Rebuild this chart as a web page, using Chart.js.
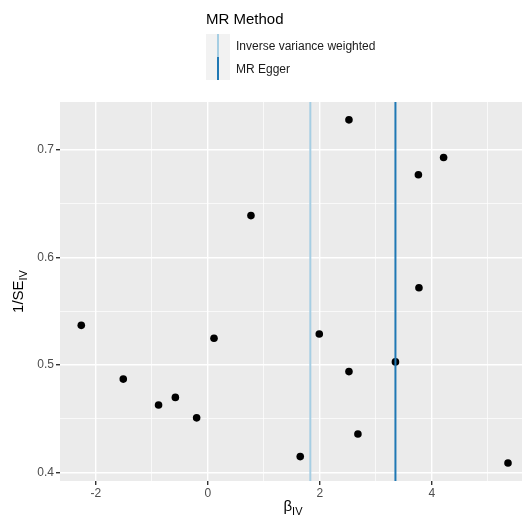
<!DOCTYPE html>
<html>
<head>
<meta charset="utf-8">
<script src="https://cdn.jsdelivr.net/npm/chart.js@4"></script>
<style>
  html, body { margin: 0; padding: 0; background: #ffffff; }
  #wrap { position: relative; width: 522px; height: 519px; }
</style>
</head>
<body>
<div id="wrap"><canvas id="funnel" width="522" height="519"></canvas></div>
<script>
// Per-variant instrumental-variable estimates and their precision
const betaIV = [2.52, 4.21, 3.76, 0.77, 3.77, -2.26, 1.99, 0.11, 3.35, 2.52, -1.51, -0.58, -0.88, -0.20, 2.68, 1.65, 5.36];
const invSE  = [0.728, 0.693, 0.677, 0.639, 0.572, 0.537, 0.529, 0.525, 0.503, 0.494, 0.487, 0.470, 0.463, 0.451, 0.436, 0.415, 0.409];

// Pooled causal estimates by method
const methods = ['Inverse variance weighted', 'MR Egger'];
const methodEstimates = [1.83, 3.35];

// Axis breaks
const xMajor = [-2, 0, 2, 4];
const xMinor = [-1, 1, 3, 5];
const yMajor = [0.4, 0.5, 0.6, 0.7];
const yMinor = [0.45, 0.55, 0.65];
const xLimits = [-2.64, 5.61];
const yLimits = [0.3923, 0.7446];

const methodColours = ['#a6cee3', '#1f78b4'];
const FONT = '"Liberation Sans", Arial, Helvetica, sans-serif';

const isMajor = (v, majors) => majors.some(m => Math.abs(m - v) < 1e-9);

const pointData = betaIV.map((b, i) => ({ x: b, y: invSE[i] }));
const lineSets = methods.map((m, i) => ({
  label: m,
  data: [{ x: methodEstimates[i], y: yLimits[0] }, { x: methodEstimates[i], y: yLimits[1] }],
  showLine: true,
  borderColor: methodColours[i],
  borderWidth: 2,
  pointRadius: 0,
  order: 0
}));

// Grey panel behind the grid
const panelBg = {
  id: 'panelBg',
  beforeDraw(chart) {
    const { ctx, chartArea: a } = chart;
    ctx.save();
    ctx.fillStyle = '#ebebeb';
    ctx.fillRect(a.left, a.top, a.right - a.left, a.bottom - a.top);
    ctx.restore();
  }
};

// Draws text followed by a lowered, smaller subscript, centred on (0,0)
function drawSubscripted(ctx, main, sub, size) {
  ctx.font = size + 'px ' + FONT;
  const w1 = ctx.measureText(main).width;
  ctx.font = Math.round(size * 0.72) + 'px ' + FONT;
  const w2 = ctx.measureText(sub).width;
  const start = -(w1 + w2) / 2;
  ctx.textAlign = 'left';
  ctx.textBaseline = 'middle';
  ctx.fillStyle = '#000000';
  ctx.font = size + 'px ' + FONT;
  ctx.fillText(main, start, 0);
  ctx.font = Math.round(size * 0.72) + 'px ' + FONT;
  ctx.fillText(sub, start + w1, size * 0.3);
}

// Axis titles and the method legend
const annotations = {
  id: 'annotations',
  afterDraw(chart) {
    const { ctx, chartArea: a } = chart;
    ctx.save();
    ctx.translate(293, 507);
    drawSubscripted(ctx, '\u03B2', 'IV', 15);
    ctx.restore();

    ctx.save();
    ctx.translate(19, (a.top + a.bottom) / 2);
    ctx.rotate(-Math.PI / 2);
    drawSubscripted(ctx, '1/SE', 'IV', 15);
    ctx.restore();

    // legend
    ctx.save();
    ctx.fillStyle = '#000000';
    ctx.font = '15px ' + FONT;
    ctx.textAlign = 'left';
    ctx.textBaseline = 'middle';
    ctx.fillText('MR Method', 206, 20);
    const keyX = 206, keyY = 34, keyW = 24, keyH = 23;
    methods.forEach((m, i) => {
      const y0 = keyY + i * keyH;
      ctx.fillStyle = '#f2f2f2';
      ctx.fillRect(keyX, y0, keyW, keyH);
      ctx.strokeStyle = methodColours[i];
      ctx.lineWidth = 2;
      ctx.beginPath();
      ctx.moveTo(keyX + keyW / 2, y0);
      ctx.lineTo(keyX + keyW / 2, y0 + keyH);
      ctx.stroke();
      ctx.fillStyle = '#1a1a1a';
      ctx.font = '12px ' + FONT;
      ctx.fillText(m, 236, y0 + keyH / 2 + 1);
    });
    ctx.restore();
  }
};

new Chart(document.getElementById('funnel'), {
  type: 'scatter',
  data: {
    datasets: [
      ...lineSets,
      {
        label: 'variants',
        data: pointData,
        pointRadius: 3.8,
        pointHoverRadius: 3.8,
        pointBackgroundColor: '#000000',
        pointBorderWidth: 0,
        order: 1
      }
    ]
  },
  options: {
    responsive: false,
    animation: false,
    events: [],
    layout: { autoPadding: false, padding: { top: 102, left: 0, right: 0, bottom: 0 } },
    plugins: { legend: { display: false }, tooltip: { enabled: false } },
    scales: {
      x: {
        type: 'linear',
        min: xLimits[0],
        max: xLimits[1],
        afterBuildTicks: s => { s.ticks = [...xMajor, ...xMinor].sort((p, q) => p - q).map(v => ({ value: v })); },
        afterFit: s => { s.height = 38; s.paddingRight = 0; s.paddingLeft = 0; },
        border: { display: false },
        grid: {
          color: '#ffffff',
          lineWidth: c => isMajor(c.tick.value, xMajor) ? 1.4 : 0.7,
          tickColor: c => isMajor(c.tick.value, xMajor) ? '#333333' : 'rgba(0,0,0,0)',
          tickWidth: 1.4,
          tickLength: 4
        },
        ticks: {
          padding: 1,
          color: '#4d4d4d',
          font: { family: FONT, size: 12 },
          maxRotation: 0,
          autoSkip: false,
          callback: v => isMajor(v, xMajor) ? String(v) : ''
        }
      },
      y: {
        type: 'linear',
        min: yLimits[0],
        max: yLimits[1],
        afterBuildTicks: s => { s.ticks = [...yMajor, ...yMinor].sort((p, q) => p - q).map(v => ({ value: v })); },
        afterFit: s => { s.width = 60; },
        border: { display: false },
        grid: {
          color: '#ffffff',
          lineWidth: c => isMajor(c.tick.value, yMajor) ? 1.4 : 0.7,
          tickColor: c => isMajor(c.tick.value, yMajor) ? '#333333' : 'rgba(0,0,0,0)',
          tickWidth: 1.4,
          tickLength: 4
        },
        ticks: {
          padding: 2,
          color: '#4d4d4d',
          font: { family: FONT, size: 12 },
          autoSkip: false,
          callback: v => isMajor(v, yMajor) ? v.toFixed(1) : ''
        }
      }
    }
  },
  plugins: [panelBg, annotations]
});
</script>
</body>
</html>
